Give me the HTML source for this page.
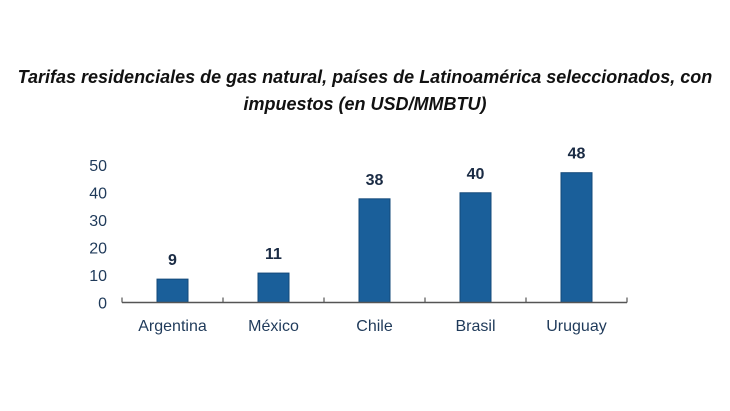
<!DOCTYPE html>
<html><head><meta charset="utf-8"><style>
body{margin:0;background:#fff;}
svg{display:block;font-family:"Liberation Sans",sans-serif;}
</style></head><body>
<svg width="730" height="411">
<text x="365" y="83" text-anchor="middle" font-size="18" font-weight="bold" font-style="italic" fill="#111">Tarifas residenciales de gas natural, países de Latinoamérica seleccionados, con</text>
<text x="365" y="110" text-anchor="middle" font-size="18" font-weight="bold" font-style="italic" fill="#111">impuestos (en USD/MMBTU)</text>
<g id="plot"></g>
</svg>
<script>
const categories=["Argentina","México","Chile","Brasil","Uruguay"];
const values=[8.5,10.7,37.7,39.9,47.2];
const labels=["9","11","38","40","48"];
const yTicks=[0,10,20,30,40,50];
const ns="http://www.w3.org/2000/svg";
const g=document.getElementById('plot');
const x0=122,x1=627,y0=302.5,yTop=165;
const y=v=>y0-(y0-yTop)*v/50;
const band=(x1-x0)/categories.length;
const cx=i=>x0+band*(i+0.5);
function mk(t,a,txt){const e=document.createElementNS(ns,t);for(const k in a)e.setAttribute(k,a[k]);if(txt!==undefined)e.textContent=txt;g.appendChild(e);return e;}
yTicks.forEach(t=>{const e=mk('text',{x:107,y:y(t)+6,'text-anchor':'end','font-size':16,fill:'#1f3a5a'},t);

});
categories.forEach((c,i)=>{
const b=mk('rect',{x:cx(i)-15.5,y:y(values[i]),width:31,height:y0-y(values[i]),fill:'#1a5f9a',stroke:'#13497a','stroke-width':1});


const l=mk('text',{x:cx(i),y:y(values[i])-14,'text-anchor':'middle','font-size':16,'font-weight':'bold',fill:'#1a2b44'},labels[i]);


const xl=mk('text',{x:cx(i),y:331,'text-anchor':'middle','font-size':16,fill:'#1f3a5a'},c);


});
const ax=mk('line',{x1:x0,x2:x1,y1:y0,y2:y0,stroke:'#555','stroke-width':1.5});


for(let i=0;i<=categories.length;i++){const t=mk('line',{x1:x0+band*i,x2:x0+band*i,y1:y0-5,y2:y0,stroke:'#555','stroke-width':1.2});

}
</script>
</body></html>
